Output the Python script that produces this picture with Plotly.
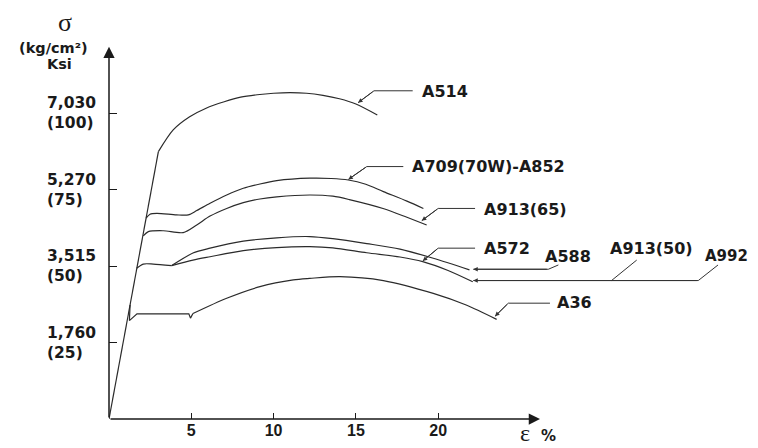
import plotly.graph_objects as go

# ---------------- data (strain %, stress ksi) ----------------
elastic_x = [0.0, 3.0]
elastic_y = [0.0, 87.5]

a514_x = [3.0, 3.9, 4.9, 5.9, 7.0, 8.0, 9.0, 10.0, 11.0, 12.0, 13.0, 14.0, 15.0, 16.3]
a514_y = [87.5, 94.6, 98.9, 101.7, 103.8, 105.3, 106.1, 106.6, 106.8, 106.6, 105.9, 104.8, 103.1, 99.5]

a709_x = [2.25, 2.49, 2.9, 4.1, 4.82, 5.33, 6.14, 7.15, 8.16, 9.17, 10.19, 12.2, 13.5, 14.54, 15.6, 16.67, 18.1, 19.1]
a709_y = [65.7, 67.0, 67.3, 66.8, 66.8, 68.2, 70.6, 73.3, 75.5, 76.9, 78.0, 78.8, 78.7, 78.2, 76.8, 74.4, 71.3, 68.9]

a913_65_x = [2.08, 2.39, 3.3, 4.51, 5.33, 6.14, 7.15, 8.16, 9.17, 10.19, 12.2, 13.6, 14.6, 16.7, 18.1, 19.3]
a913_65_y = [59.9, 61.3, 61.6, 61.0, 63.5, 66.4, 68.9, 70.8, 72.0, 72.7, 73.3, 72.9, 71.8, 68.8, 66.0, 63.5]

# common yield part of A572 / A588 group
yield50_x = [1.68, 2.08, 2.69, 3.81]
yield50_y = [49.3, 50.7, 50.7, 50.2]

a588_x = [3.81, 5.1, 6.14, 8.16, 10.19, 12.2, 13.6, 15.66, 17.68, 19.7, 21.9]
a588_y = [50.2, 54.3, 55.9, 58.2, 59.3, 59.7, 59.0, 57.4, 55.6, 52.6, 48.8]

a572_x = [3.81, 5.1, 6.14, 8.16, 10.19, 12.2, 13.6, 15.66, 17.68, 19.06, 20.6, 22.1]
a572_y = [50.2, 52.0, 53.1, 55.1, 56.1, 56.4, 56.0, 54.4, 53.0, 51.5, 48.6, 44.9]

a36_yield_x = [1.28, 1.24, 1.7, 4.85, 4.95, 5.1]
a36_yield_y = [37.3, 32.2, 34.4, 34.4, 33.0, 34.5]
a36_x = [5.1, 7.15, 9.17, 11.2, 12.2, 14.03, 16.67, 19.7, 21.7, 23.55]
a36_y = [34.5, 39.5, 43.3, 45.5, 46.0, 46.6, 45.3, 41.1, 37.3, 32.6]

x_ticks = [5, 10, 15, 20]
x_tick_text = ["5", "10", "15", "20"]
y_ticks = [25, 50, 75, 100]
y_tick_text = ["1,760<br>(25)", "3,515<br>(50)", "5,270<br>(75)", "7,030<br>(100)"]

labels = ["A514", "A709(70W)-A852", "A913(65)", "A572", "A588", "A913(50)", "A992", "A36"]
label_pos = [(18.89, 107.1), (18.29, 82.6), (22.64, 68.6), (22.64, 55.9),
             (26.39, 53.3), (30.33, 55.9), (36.1, 53.3), (27.1, 38.1)]
label_size = [16, 16, 16, 16, 16, 16, 15, 16]
# leader polylines: from label side to arrow tip (last point)
leaders = [
    [(18.45, 107.4), (16.1, 107.4), (15.13, 103.5)],
    [(17.88, 82.6), (15.66, 82.6), (14.54, 78.4)],
    [(22.24, 68.9), (20.0, 68.9), (19.0, 64.9)],
    [(22.24, 55.9), (20.0, 55.9), (19.06, 51.7)],
    [(27.3, 50.4), (26.69, 49.0), (22.13, 49.0)],
    [(37.0, 50.4), (35.8, 45.3), (22.13, 45.3)],
    [(26.79, 37.9), (24.26, 37.9), (23.45, 33.6)],
]
branch = [(32.06, 52.0), (30.53, 45.3)]

# ---------------- layout geometry ----------------
PAGE_OFF = 8              # default body margin of the html page
W, H = 758 - PAGE_OFF, 448 - PAGE_OFF
AXIS_X_PX, AXIS_Y_PX = 109, 419   # axis origin in screenshot pixels
ML = AXIS_X_PX - PAGE_OFF
plot_h = AXIS_Y_PX - PAGE_OFF
MB = H - plot_h
plot_w = W - ML
PX_PER_X = 16.46
PX_PER_Y = 3.056
x_max = plot_w / PX_PER_X
y_max = plot_h / PX_PER_Y

CURVE = "#2b2b2b"
AX = "#1a1a1a"
TXT = "#1a1a1a"

def paper_x(px):
    return (px - AXIS_X_PX) / plot_w

def paper_y(py):
    return (AXIS_Y_PX - py) / plot_h

def ydata(py):
    return (AXIS_Y_PX - py) / PX_PER_Y

def xdata(px):
    return (px - AXIS_X_PX) / PX_PER_X

fig = go.Figure()

def curve(x, y, shape="spline"):
    fig.add_trace(go.Scatter(x=x, y=y, mode="lines",
                             line=dict(color=CURVE, width=1.2, shape=shape, smoothing=0.8),
                             hoverinfo="skip", showlegend=False))

curve(elastic_x, elastic_y, "linear")
curve(a514_x, a514_y)
curve(a709_x, a709_y)
curve(a913_65_x, a913_65_y)
curve(yield50_x, yield50_y)
curve(a588_x, a588_y)
curve(a572_x, a572_y)
curve(a36_yield_x, a36_yield_y, "linear")
curve(a36_x, a36_y)

annotations = []
for pts in leaders + [branch]:
    fig.add_trace(go.Scatter(x=[p[0] for p in pts], y=[p[1] for p in pts], mode="lines",
                             line=dict(color="#333333", width=1), hoverinfo="skip", showlegend=False))
for pts in leaders:
    (cx, cy), (tx, ty) = pts[-2], pts[-1]
    annotations.append(dict(x=tx, y=ty, ax=cx, ay=cy, xref="x", yref="y", axref="x", ayref="y",
                            text="", showarrow=True, arrowhead=2, arrowsize=0.9, arrowwidth=1,
                            arrowcolor="#333333"))
for txt, (lx, ly), fs in zip(labels, label_pos, label_size):
    annotations.append(dict(x=lx, y=ly, xref="x", yref="y", text=txt, showarrow=False,
                            xanchor="left", yanchor="middle",
                            font=dict(family="DejaVu Sans", size=fs, color=TXT, weight="bold")))

# axes with arrowheads
annotations.append(dict(x=0, y=ydata(46.7), ax=0, ay=0, xref="x", yref="y", axref="x", ayref="y",
                        text="", showarrow=True, arrowhead=2, arrowsize=1.5, arrowwidth=1.5,
                        arrowcolor=AX))
annotations.append(dict(x=xdata(540), y=0, ax=0, ay=0, xref="x", yref="y", axref="x", ayref="y",
                        text="", showarrow=True, arrowhead=2, arrowsize=1.5, arrowwidth=1.5,
                        arrowcolor=AX))

# y tick labels (left aligned, two lines)
for v, t in zip(y_ticks, y_tick_text):
    annotations.append(dict(x=paper_x(45), y=v, xref="paper", yref="y", text=t, showarrow=False,
                            xanchor="left", yanchor="middle", align="left",
                            font=dict(family="DejaVu Sans", size=15.5, color=TXT, weight="bold")))

# axis titles
annotations.append(dict(x=paper_x(65), y=paper_y(23), xref="paper", yref="paper", text="σ",
                        showarrow=False, xanchor="center", yanchor="middle",
                        font=dict(family="Liberation Serif", size=26, color=TXT)))
annotations.append(dict(x=paper_x(53), y=paper_y(47.5), xref="paper", yref="paper", text="(kg/cm²)",
                        showarrow=False, xanchor="center", yanchor="middle",
                        font=dict(family="DejaVu Sans", size=14.5, color=TXT, weight="bold")))
annotations.append(dict(x=paper_x(59), y=paper_y(63.5), xref="paper", yref="paper", text="Ksi",
                        showarrow=False, xanchor="center", yanchor="middle",
                        font=dict(family="DejaVu Sans", size=14.5, color=TXT, weight="bold")))
annotations.append(dict(x=paper_x(525), y=paper_y(433), xref="paper", yref="paper", text="ε",
                        showarrow=False, xanchor="center", yanchor="middle",
                        font=dict(family="Liberation Serif", size=24, color=TXT)))
annotations.append(dict(x=paper_x(548), y=paper_y(436), xref="paper", yref="paper", text="%",
                        showarrow=False, xanchor="center", yanchor="middle",
                        font=dict(family="DejaVu Sans", size=15, color=TXT, weight="bold")))

fig.update_layout(
    width=W, height=H,
    margin=dict(l=ML, r=0, t=0, b=MB, pad=0),
    paper_bgcolor="white", plot_bgcolor="white",
    showlegend=False,
    annotations=annotations,
    xaxis=dict(range=[0, x_max], showgrid=False, zeroline=False, showline=False,
               tickvals=x_ticks, ticktext=x_tick_text, ticks="inside", ticklen=6, tickwidth=1.3,
               tickcolor=AX, tickfont=dict(family="Liberation Sans", size=16, color=TXT, weight="bold"),
               fixedrange=True),
    yaxis=dict(range=[0, y_max], showgrid=False, zeroline=False, showline=False,
               tickvals=y_ticks, ticks="inside", ticklen=8, tickwidth=1.3, tickcolor=AX,
               showticklabels=False, fixedrange=True),
)

fig.write_html("out.html")
